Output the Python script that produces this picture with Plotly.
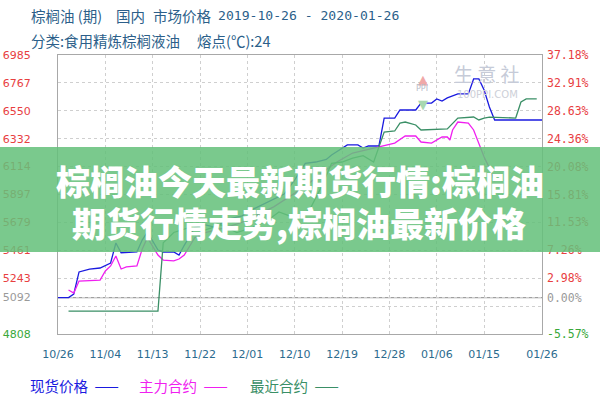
import plotly.graph_objects as go
import datetime as dt

# ---------------- data ----------------
start = dt.date(2019, 10, 26)
def day(n):
    return (start + dt.timedelta(days=n)).isoformat()

spot_days = [0, 2, 3, 4, 6, 8, 10, 11, 12, 15, 16, 17, 19, 20, 22, 23, 24, 26, 28, 30, 32, 35, 37, 39, 41, 43, 45, 47, 49, 51, 52, 55, 57, 58, 59, 61, 62, 64, 65, 68, 69, 71, 72, 73, 74, 76, 78, 79, 80, 81, 82, 83, 92]
spot_vals = [5092, 5092, 5120, 5292, 5315, 5323, 5362, 5518, 5442, 5448, 5541, 5604, 5463, 5448, 5448, 5424, 5500, 5640, 5660, 5640, 5700, 5730, 5780, 5820, 5860, 5900, 6010, 6140, 6150, 6170, 6205, 6283, 6283, 6259, 6275, 6275, 6493, 6493, 6556, 6556, 6610, 6610, 6642, 6626, 6650, 6681, 6681, 6798, 6798, 6712, 6579, 6478, 6478]

main_days = [2, 3, 4, 8, 9, 10, 11, 12, 13, 15, 16, 17, 19, 20, 22, 23, 24, 26, 28, 30, 32, 35, 38, 41, 44, 47, 50, 53, 56, 60, 62, 64, 66, 68, 69, 71, 73, 74, 74.5, 75, 76, 78, 79, 80, 81, 82, 83]
main_vals = [5151, 5127, 5221, 5229, 5300, 5339, 5417, 5315, 5331, 5339, 5470, 5560, 5424, 5385, 5378, 5393, 5424, 5560, 5600, 5620, 5640, 5680, 5740, 5800, 5880, 5960, 6060, 6150, 6220, 6260, 6283, 6298, 6353, 6353, 6306, 6298, 6345, 6345, 6322, 6400, 6462, 6454, 6400, 6298, 6189, 6103, 6000]

near_days = [2, 19, 20, 22, 25, 28, 31, 34, 37, 40, 42, 44, 46, 48, 50, 52, 54, 56, 58, 60, 62, 64, 65, 66, 68, 69, 74, 76, 79, 80, 81, 82, 87, 88, 89, 91]
near_vals = [4987, 4987, 5520, 5600, 5640, 5620, 5660, 5600, 5640, 5700, 5760, 5730, 5720, 5790, 5950, 6140, 6150, 6180, 6200, 6150, 6384, 6392, 6454, 6462, 6439, 6400, 6408, 6493, 6501, 6478, 6493, 6501, 6493, 6618, 6642, 6642]

base_price = 5092
y_ticks = [4808, 5025.7, 5092, 5243.4, 5461.1, 5678.8, 5896.5, 6114.2, 6331.9, 6549.6, 6767.3, 6985]
y_labels = ["4808", "", "5092", "5243", "5461", "5679", "5897", "6114", "6332", "6550", "6767", "6985"]
pct_labels = ["-5.57%", "", "0.00%", "2.98%", "7.26%", "11.53%", "15.81%", "20.08%", "24.36%", "28.63%", "32.91%", "37.18%"]
x_tick_days = [0, 9, 18, 27, 36, 45, 54, 63, 72, 81, 92]
x_tick_labels = ["10/26", "11/04", "11/13", "11/22", "12/01", "12/10", "12/19", "12/28", "01/06", "01/15", "01/26"]

series_names = ["现货价格", "主力合约", "最近合约"]
series_colors = ["#1a1adf", "#f01ff0", "#3a8f66"]

title1_parts = ["棕榈油 (期)", "国内", "市场价格"]
title1_dates = "2019-10-26 - 2020-01-26"
title2_parts = ["分类:食用精炼棕榈液油", "熔点(℃):24"]
banner1 = "棕榈油今天最新期货行情:棕榈油"
banner2 = "期货行情走势,棕榈油最新价格"

# --------------- layout helpers ---------------
L, R, T, B = 58, 542, 55, 334
def px(x):
    return (x - L) / (R - L)
def py(y):
    return (B - y) / (B - T)

RED, GRAY, GREEN = "#e8403f", "#9a9a9a", "#3aa83a"
def colour_for(i):
    return GREEN if i == 0 else (GRAY if i == 2 else RED)

y_text = [f"<span style='color:{colour_for(i)}'>{t}</span>" for i, t in enumerate(y_labels)]
p_text = [f"<span style='color:{colour_for(i)}'>{t}</span>" for i, t in enumerate(pct_labels)]
y_pct = [(v / base_price - 1) * 100 for v in y_ticks]

fig = go.Figure()
for d, v, c in zip([spot_days, main_days, near_days], [spot_vals, main_vals, near_vals], series_colors):
    xs = [(dt.datetime(2019, 10, 26) + dt.timedelta(days=k)).isoformat() for k in d]
    fig.add_trace(go.Scatter(x=xs, y=v, mode="lines", line=dict(color=c, width=1.3), showlegend=False, hoverinfo="skip"))

fig.add_trace(go.Scatter(x=[day(0)], y=[0], yaxis="y2", mode="markers", marker=dict(opacity=0), showlegend=False, hoverinfo="skip"))

x_range = [day(0), day(92)]
fig.update_layout(
    width=600, height=400, autosize=False,
    margin=dict(l=L, r=600 - R, t=T, b=400 - B, autoexpand=False),
    paper_bgcolor="white", plot_bgcolor="white",
    font=dict(family="DejaVu Sans", size=11),
    xaxis=dict(type="date", range=x_range, automargin=False,
               tickvals=[day(k) for k in x_tick_days], ticktext=x_tick_labels, tickangle=0,
               tickfont=dict(family="DejaVu Sans", size=11, color="#2b6b8e"),
               showgrid=True, gridcolor="#cfcfcf", griddash="dot", gridwidth=1,
               showline=True, linecolor="#a8a8a8", linewidth=1, mirror=True,
               ticks="", zeroline=False, ticklabelstandoff=10),
    yaxis=dict(range=[y_ticks[0], y_ticks[-1]], tickvals=y_ticks, ticktext=y_text, automargin=False,
               tickfont=dict(family="DejaVu Sans", size=11),
               showgrid=True, gridcolor="#cfcfcf", griddash="dot", gridwidth=1,
               showline=True, linecolor="#a8a8a8", linewidth=1, mirror=True,
               ticks="", zeroline=False, ticklabelstandoff=24),
    yaxis2=dict(overlaying="y", side="right", range=[y_pct[0], y_pct[-1]], automargin=False,
                tickvals=y_pct, ticktext=p_text,
                tickfont=dict(family="DejaVu Sans Mono", size=11.5),
                showgrid=False, zeroline=False, ticks="", showline=False, ticklabelstandoff=4),
)

# base line (0.00%)
fig.add_shape(type="line", xref="paper", yref="y", x0=0, x1=1, y0=base_price, y1=base_price,
              line=dict(color="#a0a0a0", width=1.2), layer="below")

# titles
TITLE_C = "#2c5f8a"
def label(text, x, y, family="Noto Sans CJK SC", size=14.5, color=TITLE_C):
    fig.add_annotation(text=text, xref="paper", yref="paper", x=px(x), y=py(y), xanchor="left", yanchor="middle",
                       showarrow=False, font=dict(family=family, size=size, color=color))

for t, x in zip(title1_parts, [29, 114, 151]):
    label(t, x, 16)
label(title1_dates, 216, 16, family="DejaVu Sans Mono", size=13.1)
for t, x in zip(title2_parts, [29, 195]):
    label(t, x, 40)

# watermark
fig.add_annotation(text="生 意 社", xref="paper", yref="paper", x=px(487), y=py(73), xanchor="center", yanchor="middle",
                   showarrow=False, font=dict(family="Noto Sans CJK SC", size=19, color="#c6cbd8"))
fig.add_annotation(text="100PPI.COM", xref="paper", yref="paper", x=px(487), y=py(94), xanchor="center", yanchor="middle",
                   showarrow=False, font=dict(family="DejaVu Sans", size=10, color="#cdd0d8"))
fig.add_annotation(text="▲", xref="paper", yref="paper", x=px(430), y=py(70), showarrow=False,
                   font=dict(size=13, color="#f0a8a8"))
fig.add_annotation(text="PPI", xref="paper", yref="paper", x=px(430), y=py(82), showarrow=False,
                   font=dict(family="DejaVu Sans", size=8, color="#b8bcc8"))
fig.add_annotation(text="▼", xref="paper", yref="paper", x=px(430), y=py(95), showarrow=False,
                   font=dict(size=13, color="#a8d8b0"))

# legend (text then line sample)
leg_x = [28, 137, 248]
for name, col, x0 in zip(series_names, series_colors, leg_x):
    fig.add_annotation(text=f"{name}&nbsp; <span style='color:{col}'>——</span>", xref="paper", yref="paper",
                       x=px(x0), y=py(385), xanchor="left", yanchor="middle", showarrow=False,
                       font=dict(family="Noto Sans CJK SC", size=14.5, color=col))

# banner overlay
fig.add_shape(type="rect", xref="paper", yref="paper", x0=px(0), x1=px(600), y0=py(252), y1=py(147),
              fillcolor="rgba(100,192,122,0.86)", line=dict(width=0), layer="above")
fig.add_annotation(text=banner1, xref="paper", yref="paper", x=px(300), y=py(180), xanchor="center", yanchor="middle",
                   showarrow=False, font=dict(family="Noto Sans CJK SC", size=34, color="white", weight=900))
fig.add_annotation(text=banner2, xref="paper", yref="paper", x=px(299), y=py(222), xanchor="center", yanchor="middle",
                   showarrow=False, font=dict(family="Noto Sans CJK SC", size=34, color="white", weight=900))

fig.write_html("out.html")
